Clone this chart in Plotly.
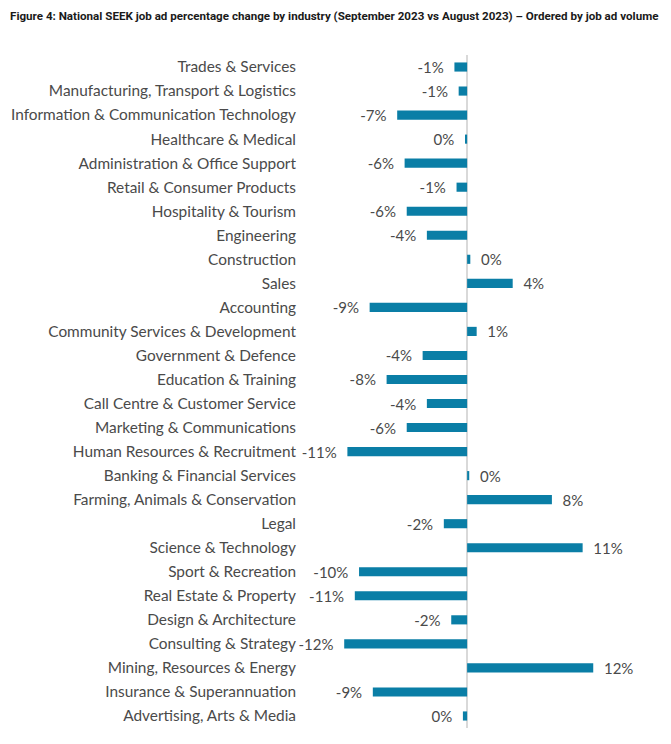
import plotly.graph_objects as go

categories = [
    "Trades & Services", "Manufacturing, Transport & Logistics",
    "Information & Communication Technology", "Healthcare & Medical",
    "Administration & Office Support", "Retail & Consumer Products",
    "Hospitality & Tourism", "Engineering", "Construction", "Sales",
    "Accounting", "Community Services & Development", "Government & Defence",
    "Education & Training", "Call Centre & Customer Service",
    "Marketing & Communications", "Human Resources & Recruitment",
    "Banking & Financial Services", "Farming, Animals & Conservation", "Legal",
    "Science & Technology", "Sport & Recreation", "Real Estate & Property",
    "Design & Architecture", "Consulting & Strategy",
    "Mining, Resources & Energy", "Insurance & Superannuation",
    "Advertising, Arts & Media",
]
pct_change = [
    -1.2, -0.8, -6.6, -0.2, -5.9, -1.0, -5.7, -3.8, 0.3, 4.3,
    -9.2, 0.9, -4.2, -7.6, -3.8, -5.7, -11.3, 0.2, 8.0, -2.2,
    10.9, -10.2, -10.6, -1.5, -11.6, 11.9, -8.9, -0.4,
]
NB = "\u00a0\u00a0"
labels = [(f"{int(round(v))}%" + NB) if v < 0 else (NB + f"{int(round(v))}%")
          for v in pct_change]

title_text = ("Figure 4: National SEEK job ad percentage change by industry "
              "(September 2023 vs August 2023) – Ordered by job ad volume")

fig = go.Figure(go.Bar(
    x=pct_change, y=categories, orientation="h",
    marker=dict(color="#0a7ea6", line=dict(width=0)),
    width=0.38,
    text=labels, textposition="outside", cliponaxis=False,
    constraintext="none",
    textfont=dict(family="Lato", size=15, color="#4a4a4a"),
    hoverinfo="skip",
))

fig.update_layout(
    width=671, height=744,
    margin=dict(l=305, r=11, t=55, b=16),
    paper_bgcolor="white", plot_bgcolor="white",
    showlegend=False,
    title=dict(text=title_text, x=0.015, xanchor="left", y=0.978, yanchor="middle",
               font=dict(family="Roboto", size=11.6, color="#1a1a1a", weight="bold")),
)
fig.update_xaxes(range=[-15.3, 18.2], showgrid=False, showticklabels=False,
                 zeroline=True, zerolinecolor="#d9d9d9", zerolinewidth=1.5)
fig.update_yaxes(autorange="reversed", showgrid=False, ticks="",
                 ticklabelstandoff=8,
                 tickfont=dict(family="Lato", size=15.4, color="#4a4a4a"))

fig.write_html("out.html", config={"displayModeBar": False},
               post_script="document.body.style.margin='0px';")
